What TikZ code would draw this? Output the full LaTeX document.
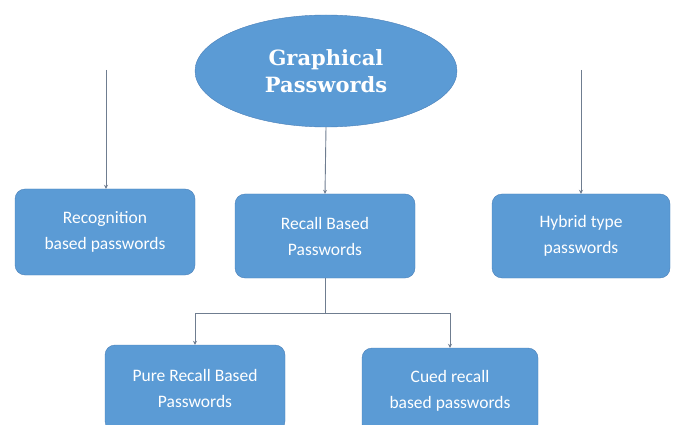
\documentclass[tikz,border=0pt]{standalone}
\usepackage{fontspec}
\setmainfont{Carlito}
\newfontfamily\headfont{DejaVu Serif}
\usetikzlibrary{shapes.geometric,arrows.meta}
\definecolor{boxblue}{HTML}{5B9BD5}
\definecolor{boxedge}{HTML}{4A7FB8}
\definecolor{linkgray}{HTML}{6F7D90}
\begin{document}
\begin{tikzpicture}[x=1pt,y=-1pt,
		pwbox/.style={draw=boxedge,fill=boxblue,rounded corners=10pt,text=white,align=center,font=\fontsize{17.5}{26}\selectfont},
		link/.style={draw=linkgray,line width=0.9pt,-{Stealth[length=4pt,width=4pt]}}]
				\useasboundingbox (0,0) rectangle (675,425);
				\node[ellipse,draw=boxedge,fill=boxblue,minimum width=262pt,minimum height=112pt,text=white,align=center,font=\headfont\bfseries\fontsize{21}{27}\selectfont] (gp) at (326,71) {Graphical\\Passwords};
				\node[pwbox,minimum width=180pt,minimum height=86pt] (rec) at (105,232) {Recognition\\based passwords};
				\node[pwbox,minimum width=180pt,minimum height=84pt] (rcl) at (325,236) {Recall Based\\Passwords};
				\node[pwbox,minimum width=178pt,minimum height=84pt] (hyb) at (581,236) {Hybrid type\\passwords};
				\node[pwbox,minimum width=180pt,minimum height=86pt] (pure) at (195,388) {Pure Recall Based\\Passwords};
				\node[pwbox,minimum width=176pt,minimum height=86pt] (cued) at (450,391) {Cued recall\\based passwords};
				\coordinate (recTop) at (106,70);
				\coordinate (hybTop) at (581,70);
				\coordinate (split) at (325,313);
				\draw[link] (recTop) -- (rec.north -| recTop);
				\draw[link] (hybTop) -- (hyb.north -| hybTop);
				\draw[link] (gp.south) -- (rcl.north);
				\draw[linkgray,line width=0.9pt] (rcl.south) -- (split);
				\draw[link] (split) -| (pure.north);
				\draw[link] (split) -| (cued.north);
			\end{tikzpicture}
\end{document}
